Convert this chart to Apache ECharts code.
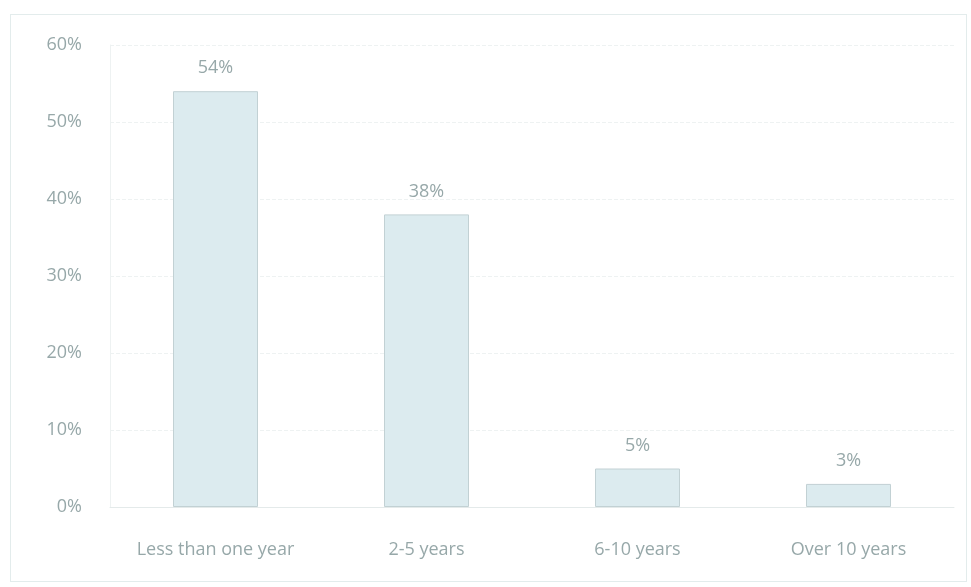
<!DOCTYPE html>
<html><head><meta charset="utf-8">
<script src="https://cdn.jsdelivr.net/npm/echarts@6/dist/echarts.min.js"></script>
<style>html,body{margin:0;padding:0;background:#fff}#c{width:971px;height:587px}
#frame{position:absolute;left:10px;top:14px;width:955px;height:566px;border:1px solid #e3ecec;pointer-events:none}</style>
</head><body><div id="c"></div><div id="frame"></div>
<script>
const categories = ["Less than one year", "2-5 years", "6-10 years", "Over 10 years"];
const values = [54, 38, 5, 3];
const yTicks = [0, 10, 20, 30, 40, 50, 60];

const txt = { color: '#97a8a9', fontFamily: 'Open Sans', fontSize: 18 };
const chart = echarts.init(document.getElementById('c'));
chart.setOption({
  animation: false,
  grid: { left: 110, right: 17, top: 45, bottom: 80 },
  xAxis: {
    type: 'category', data: categories,
    axisLine: { show: true, lineStyle: { color: '#e4eaea' } },
    axisTick: { show: false },
    axisLabel: Object.assign({ margin: 34 }, txt)
  },
  yAxis: {
    type: 'value', min: yTicks[0], max: yTicks[yTicks.length - 1], interval: 10,
    axisLine: { show: true, lineStyle: { color: '#eef2f2' } },
    axisTick: { show: false },
    splitLine: { lineStyle: { color: '#eef2f2', type: 'dashed' } },
    axisLabel: Object.assign({ margin: 28, formatter: v => v + '%' }, txt)
  },
  series: [{
    type: 'bar', data: values, barWidth: 85,
    itemStyle: { color: '#dcebef', borderColor: '#c2d1d4', borderWidth: 1 },
    label: Object.assign({ show: true, position: 'top', distance: 14, formatter: p => p.value + '%' }, txt)
  }]
});
</script></body></html>
